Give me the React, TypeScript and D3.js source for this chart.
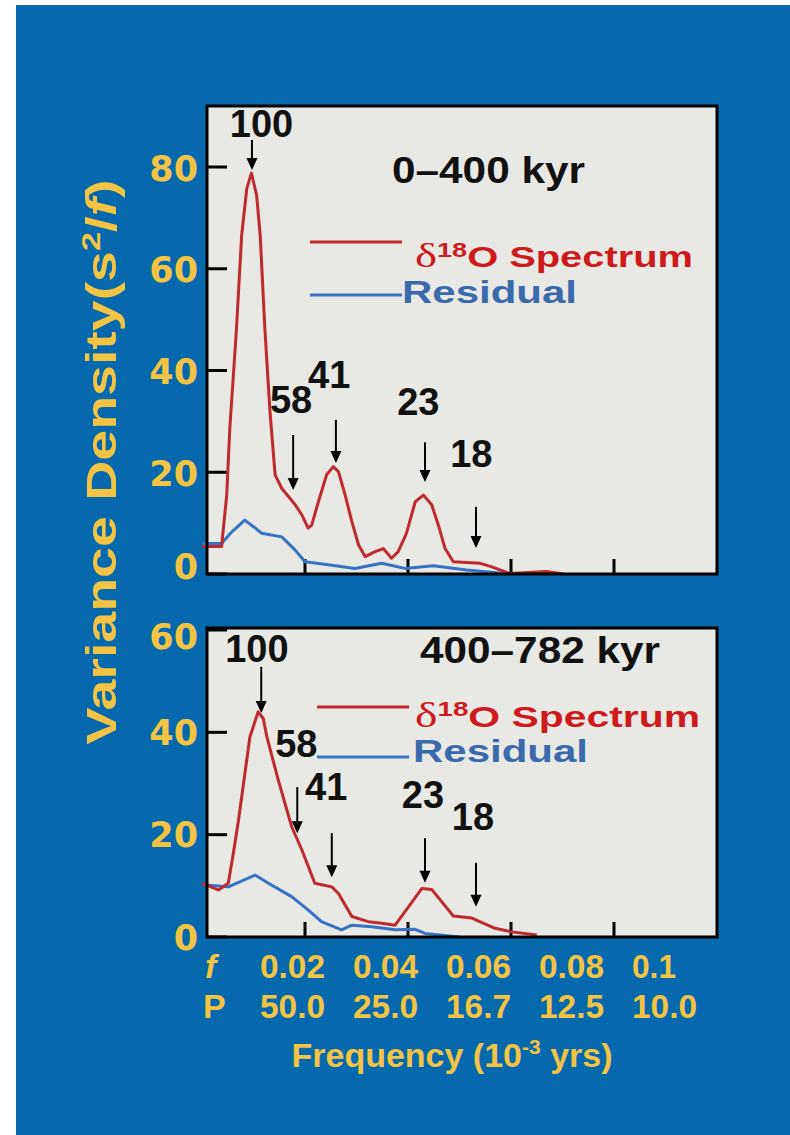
import React from "react";
import * as d3 from "d3";

// ---------- data ----------
const freqTicks = [0.02, 0.04, 0.06, 0.08, 0.1];
const freqTickLabels = ["0.02", "0.04", "0.06", "0.08", "0.1"];
const periodTickLabels = ["50.0", "25.0", "16.7", "12.5", "10.0"];

const topYTicks = [0, 20, 40, 60, 80];
const bottomYTicks = [0, 20, 40, 60];

// 0–400 kyr
const topSpecF = [0, 0.0038, 0.0048, 0.0054, 0.0067, 0.0077, 0.0087, 0.0096, 0.0106, 0.0113, 0.0122, 0.0132, 0.0142, 0.0155, 0.0174, 0.0181, 0.0194, 0.0206, 0.0213, 0.0226, 0.0242, 0.0255, 0.0265, 0.0278, 0.0291, 0.0304, 0.0317, 0.0336, 0.0352, 0.0368, 0.0381, 0.0397, 0.0414, 0.043, 0.0446, 0.0459, 0.0472, 0.0488, 0.054, 0.0563, 0.0598, 0.0669, 0.0702];
const topSpecV = [5.4, 5.4, 15.5, 28.6, 48.3, 66.6, 75.8, 78.8, 74.5, 66.6, 48.3, 31.9, 19.5, 16.8, 14.5, 13.6, 11.6, 9.0, 9.6, 14.2, 19.5, 21.1, 20.1, 15.5, 10.3, 5.7, 3.4, 4.4, 5.0, 3.1, 4.4, 8.0, 14.2, 15.5, 13.6, 9.6, 5.0, 2.4, 2.1, 1.4, 0.1, 0.5, 0];
const topResF = [0, 0.0038, 0.0058, 0.0083, 0.01, 0.0116, 0.0155, 0.0181, 0.02, 0.0245, 0.0297, 0.0349, 0.0394, 0.0449, 0.0514, 0.0598];
const topResV = [6.0, 6.0, 8.3, 10.6, 9.3, 8.0, 7.3, 4.7, 2.4, 1.8, 1.1, 2.1, 1.1, 1.6, 0.8, 0];

// 400–782 kyr
const botSpecF = [0, 0.0032, 0.0051, 0.0061, 0.0071, 0.0093, 0.0109, 0.0119, 0.0126, 0.0148, 0.0174, 0.0194, 0.0219, 0.0252, 0.0265, 0.0291, 0.0323, 0.0349, 0.0375, 0.0401, 0.0427, 0.0446, 0.0488, 0.0524, 0.0569, 0.0601, 0.065];
const botSpecV = [10.5, 9.2, 10.5, 16.4, 22.9, 39.1, 44.0, 42.7, 39.1, 30.7, 21.6, 17.0, 10.5, 9.8, 8.5, 4.0, 3.0, 2.7, 2.3, 5.9, 9.5, 9.3, 4.1, 3.7, 1.7, 1.0, 0.4];
const botResF = [0, 0.0051, 0.0103, 0.0129, 0.0174, 0.0206, 0.0232, 0.0271, 0.0291, 0.033, 0.0375, 0.0414, 0.0433, 0.05];
const botResV = [10.2, 9.8, 12.1, 10.5, 7.9, 5.3, 3.0, 1.4, 2.3, 2.0, 1.4, 1.5, 0.7, 0];

// period annotations: label, arrow frequency, arrow start / tip values, label anchor (f, v)
const periodLabels = ["100", "58", "41", "23", "18"];
const topArrowF = [0.0097, 0.0177, 0.026, 0.0433, 0.0532];
const topArrowFrom = [85.3, 27.3, 30.3, 25.9, 13.2];
const topArrowTo = [79.4, 16.5, 21.8, 18.1, 5.1];
const topLabelF = [0.0054, 0.0132, 0.0206, 0.0379, 0.0482];
const topLabelV = [85.9, 31.6, 36.6, 31.3, 21.0];

const botArrowF = [0.0115, 0.0185, 0.0252, 0.0433, 0.0532];
const botArrowFrom = [52.8, 29.3, 20.3, 19.3, 14.5];
const botArrowTo = [43.8, 20.3, 11.7, 10.6, 5.9];
const botLabelF = [0.0045, 0.0142, 0.02, 0.0388, 0.0485];
const botLabelV = [53.7, 35.2, 26.8, 25.2, 20.9];

// ---------- styling ----------
const W = 790;
const H = 1135;
const BG = "#0668AD";
const PLOT_BG = "#E8E8E4";
const GOLD = "#F3C443";
const RED = "#BF2A2E";
const RED_TEXT = "#CF1A1C";
const BLUE = "#3573C4";
const BLUE_TEXT = "#3A69AC";
const SANS = "'Liberation Sans', Arial, sans-serif";
const WIDE = "'DejaVu Sans', sans-serif";

const x = d3.scaleLinear().domain([0, 0.1]).range([202, 717]);
const xLabel = d3.scaleLinear().domain([0.02, 0.1]).range([260, 632]);

type PanelProps = {
  box: { x0: number; x1: number; y0: number; y1: number };
  y: d3.ScaleLinear<number, number>;
  yTicks: number[];
  specF: number[];
  specV: number[];
  resF: number[];
  resV: number[];
  arrowF: number[];
  arrowFrom: number[];
  arrowTo: number[];
  labelF: number[];
  labelV: number[];
  title: string;
  titleX: number;
  titleY: number;
  titleLen: number;
  legend: { lx0: number; lx1: number; ry: number; by: number; rtx: number; rty: number; rlen: number; btx: number; bty: number; blen: number; bfs: number; rfs: number };
  tickLabelShift: (v: number) => number;
};

function Panel(p: PanelProps) {
  const { box, y } = p;
  const line = d3
    .line<[number, number]>()
    .x((d) => x(d[0]))
    .y((d) => y(d[1]))
    .curve(d3.curveLinear);
  const spec = line(p.specF.map((f, i) => [f, p.specV[i]] as [number, number])) || "";
  const res = line(p.resF.map((f, i) => [f, p.resV[i]] as [number, number])) || "";
  const lg = p.legend;
  return (
    <g>
      <rect x={box.x0} y={box.y0} width={box.x1 - box.x0} height={box.y1 - box.y0} fill={PLOT_BG} />
      {p.yTicks.map((t) => (
        <line key={"yt" + t} x1={box.x0} x2={box.x0 + 20} y1={y(t)} y2={y(t)} stroke="#000" strokeWidth={3} />
      ))}
      {p.yTicks.map((t) => (
        <text
          key={"yl" + t}
          x={198}
          y={y(t) + p.tickLabelShift(t)}
          dy="0.36em"
          textAnchor="end"
          fill={GOLD}
          fontFamily={WIDE}
          fontWeight="bold"
          fontSize={35}
        >
          {t}
        </text>
      ))}
      {freqTicks.slice(0, 4).map((t) => (
        <line key={"xt" + t} x1={x(t)} x2={x(t)} y1={box.y1} y2={box.y1 - 15} stroke="#000" strokeWidth={3} />
      ))}
      <path d={res} fill="none" stroke={BLUE} strokeWidth={3} strokeLinejoin="round" />
      <path d={spec} fill="none" stroke={RED} strokeWidth={3} strokeLinejoin="round" />
      <rect x={box.x0} y={box.y0} width={box.x1 - box.x0} height={box.y1 - box.y0} fill="none" stroke="#000" strokeWidth={3} />
      {periodLabels.map((lab, i) => {
        const ax = x(p.arrowF[i]);
        const ya = y(p.arrowFrom[i]);
        const yb = y(p.arrowTo[i]);
        return (
          <g key={"ar" + lab}>
            <line x1={ax} x2={ax} y1={ya} y2={yb - 10} stroke="#000" strokeWidth={2} />
            <path d={`M${ax - 5.5},${yb - 12} L${ax + 5.5},${yb - 12} L${ax},${yb} Z`} fill="#000" />
            <text x={x(p.labelF[i])} y={y(p.labelV[i])} fontFamily={SANS} fontWeight="bold" fontSize={38} fill="#111">
              {lab}
            </text>
          </g>
        );
      })}
      <text x={p.titleX} y={p.titleY} fontFamily={SANS} fontWeight="bold" fontSize={37} fill="#111" textLength={p.titleLen} lengthAdjust="spacingAndGlyphs">
        {p.title}
      </text>
      <line x1={lg.lx0} x2={lg.lx1} y1={lg.ry} y2={lg.ry} stroke={RED} strokeWidth={3} />
      <line x1={lg.lx0} x2={lg.lx1} y1={lg.by} y2={lg.by} stroke={BLUE} strokeWidth={3} />
      <text x={lg.rtx} y={lg.rty} fill={RED_TEXT} fontSize={lg.rfs} textLength={lg.rlen} lengthAdjust="spacingAndGlyphs">
        <tspan fontFamily="'Liberation Serif', 'Times New Roman', serif" fontSize={lg.rfs + 5}>δ</tspan>
        <tspan fontFamily={SANS} fontWeight="bold" fontSize={lg.rfs * 0.68} dy={-lg.rfs * 0.36}>18</tspan>
        <tspan fontFamily={SANS} fontWeight="bold" dy={lg.rfs * 0.36}>O Spectrum</tspan>
      </text>
      <text x={lg.btx} y={lg.bty} fill={BLUE_TEXT} fontFamily={SANS} fontWeight="bold" fontSize={lg.bfs} textLength={lg.blen} lengthAdjust="spacingAndGlyphs">
        Residual
      </text>
    </g>
  );
}

export default function App() {
  const yTop = d3.scaleLinear().domain([0, 80]).range([574, 167]);
  const yBot = d3.scaleLinear().domain([0, 60]).range([937, 630]);
  return (
    <div style={{ position: "absolute", left: 0, top: 0, width: W, height: H }}>
      <svg width={W} height={H} viewBox={`0 0 ${W} ${H}`} style={{ display: "block" }}>
        <rect x={0} y={0} width={W} height={H} fill="#fff" />
        <rect x={16} y={5} width={W - 16} height={H - 5} fill={BG} />
        <Panel
          box={{ x0: 207, x1: 717, y0: 106, y1: 574 }}
          y={yTop}
          yTicks={topYTicks}
          specF={topSpecF}
          specV={topSpecV}
          resF={topResF}
          resV={topResV}
          arrowF={topArrowF}
          arrowFrom={topArrowFrom}
          arrowTo={topArrowTo}
          labelF={topLabelF}
          labelV={topLabelV}
          title="0–400 kyr"
          titleX={392}
          titleY={183}
          titleLen={193}
          legend={{ lx0: 310, lx1: 402, ry: 242, by: 295, rtx: 415, rty: 267, rlen: 278, btx: 402, bty: 303, blen: 175, rfs: 29, bfs: 32 }}
          tickLabelShift={(v) => (v === 0 ? -8 : 1)}
        />
        <Panel
          box={{ x0: 207, x1: 717, y0: 628, y1: 937 }}
          y={yBot}
          yTicks={bottomYTicks}
          specF={botSpecF}
          specV={botSpecV}
          resF={botResF}
          resV={botResV}
          arrowF={botArrowF}
          arrowFrom={botArrowFrom}
          arrowTo={botArrowTo}
          labelF={botLabelF}
          labelV={botLabelV}
          title="400–782 kyr"
          titleX={420}
          titleY={663}
          titleLen={240}
          legend={{ lx0: 317, lx1: 409, ry: 707, by: 757, rtx: 415, rty: 727, rlen: 285, btx: 413, bty: 762, blen: 175, rfs: 30, bfs: 32 }}
          tickLabelShift={(v) => (v === 60 ? 6 : 0)}
        />
        <text x={205} y={978} fill={GOLD} fontFamily={SANS} fontWeight="bold" fontStyle="italic" fontSize={34}>f</text>
        <text x={203} y={1018} fill={GOLD} fontFamily={SANS} fontWeight="bold" fontSize={34}>P</text>
        {freqTicks.map((t, i) => (
          <text key={"fl" + t} x={xLabel(t)} y={978} fill={GOLD} fontFamily={SANS} fontWeight="bold" fontSize={34} textLength={t === 0.1 ? 44 : 65} lengthAdjust="spacingAndGlyphs">
            {freqTickLabels[i]}
          </text>
        ))}
        {freqTicks.map((t, i) => (
          <text key={"pl" + t} x={xLabel(t)} y={1018} fill={GOLD} fontFamily={SANS} fontWeight="bold" fontSize={34} textLength={65} lengthAdjust="spacingAndGlyphs">
            {periodTickLabels[i]}
          </text>
        ))}
        <text x={452} y={1067} textAnchor="middle" fill={GOLD} fontFamily={SANS} fontWeight="bold" fontSize={34}>
          Frequency (10
          <tspan fontSize={21} dy={-13}>-3</tspan>
          <tspan dy={13}> yrs)</tspan>
        </text>
        <text
          transform="translate(116,462) rotate(-90)"
          textAnchor="middle"
          fill={GOLD}
          fontFamily={SANS}
          fontWeight="bold"
          fontSize={42}
          textLength={565}
          lengthAdjust="spacingAndGlyphs"
        >
          Variance Density(s<tspan fontSize={26} dy={-16}>2</tspan>
          <tspan dy={16}>/</tspan>
          <tspan fontStyle="italic">f</tspan>)
        </text>
      </svg>
    </div>
  );
}
